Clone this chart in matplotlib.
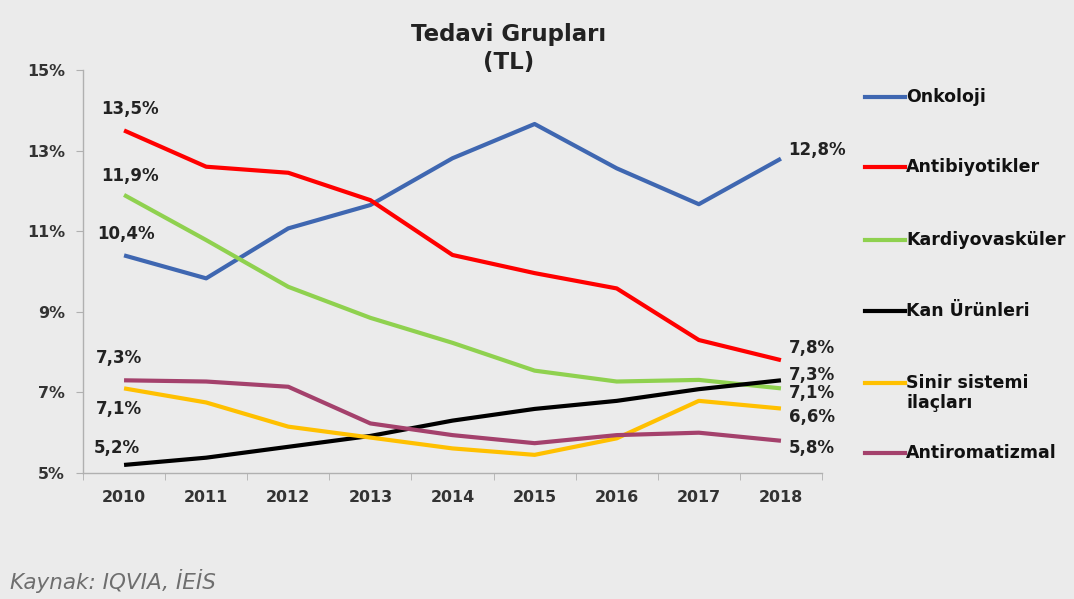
import matplotlib.pyplot as plt
from matplotlib.lines import Line2D

years = ["2010", "2011", "2012", "2013", "2014", "2015", "2016", "2017", "2018"]

onkoloji = [10.4, 9.83, 11.07, 11.65, 12.81, 13.66, 12.56, 11.67, 12.8]
antibiyotikler = [13.5, 12.6, 12.45, 11.77, 10.41, 9.96, 9.58, 8.3, 7.8]
kardiyovaskuler = [11.9, 10.78, 9.62, 8.85, 8.23, 7.54, 7.27, 7.31, 7.1]
kan_urunleri = [5.2, 5.38, 5.65, 5.92, 6.3, 6.59, 6.79, 7.08, 7.3]
sinir_sistemi = [7.1, 6.75, 6.15, 5.88, 5.61, 5.45, 5.86, 6.79, 6.6]
antiromatizmal = [7.3, 7.27, 7.14, 6.23, 5.94, 5.74, 5.94, 6.0, 5.8]

names = ["Onkoloji", "Antibiyotikler", "Kardiyovasküler", "Kan Ürünleri",
         "Sinir sistemi\nilaçları", "Antiromatizmal"]
series = [onkoloji, antibiyotikler, kardiyovaskuler, kan_urunleri,
          sinir_sistemi, antiromatizmal]
colors = ["#3f67b1", "#ff0000", "#8fd14f", "#000000", "#ffc000", "#a4416c"]

# label offsets in pixels, positive = down (first point, last point)
first_off = [(-27, -21), (-23, -21), (-23, -19), (-30, -17), (-28, 21), (-28, -22)]
last_off = [(7, -9), (8, -12), (8, 5), (8, -5), (8, 8), (8, 7)]
# legend rows (figure y in px from top)
legend_y = [97, 167, 240, 311, 383, 453]

bg = "#ebebeb"
plt.rcParams["font.family"] = ["DejaVu Sans"]

fig = plt.figure(figsize=(10.74, 5.99), dpi=100, facecolor=bg)
ax = fig.add_axes([83 / 1074, 1 - 473 / 599, (822 - 83) / 1074, (473 - 70) / 599])
ax.set_facecolor(bg)

x = list(range(len(years)))
for vals, c, f_off, l_off in zip(series, colors, first_off, last_off):
    ax.plot(x, vals, color=c, lw=3, solid_capstyle="butt", zorder=3)
    ax.annotate(f"{vals[0]:.1f}%".replace(".", ","), (x[0], vals[0]),
                xytext=(f_off[0], -f_off[1]), textcoords="offset pixels",
                ha="left", va="center",
                fontsize=12, fontweight="bold", color="#222222")
    ax.annotate(f"{vals[-1]:.1f}%".replace(".", ","), (x[-1], vals[-1]),
                xytext=(l_off[0], -l_off[1]), textcoords="offset pixels",
                ha="left", va="center",
                fontsize=12, fontweight="bold", color="#222222")

ax.set_xlim(-0.5, len(years) - 0.5)
ax.set_ylim(5, 15)
ax.set_yticks([5, 7, 9, 11, 13, 15])
ax.set_yticklabels(["5%", "7%", "9%", "11%", "13%", "15%"])
ax.set_xticks(x)
ax.set_xticklabels(years)
ax.set_xticks([i + 0.5 for i in range(-1, len(years))], minor=True)
ax.tick_params(axis="x", which="major", length=0, pad=12)
ax.tick_params(axis="x", which="minor", length=5, color="#b0b0b0", direction="out")
ax.tick_params(axis="y", length=5, color="#b0b0b0", pad=8)
for lab in ax.get_xticklabels() + ax.get_yticklabels():
    lab.set_fontweight("bold")
    lab.set_fontsize(11.4)
    lab.set_color("#333333")
for s in ["top", "right"]:
    ax.spines[s].set_visible(False)
for s in ["left", "bottom"]:
    ax.spines[s].set_color("#b0b0b0")
    ax.spines[s].set_linewidth(1)

fig.text(509 / 1074, 1 - 35 / 599, "Tedavi Grupları", ha="center", va="center",
         fontsize=16.5, fontweight="bold", color="#222222")
fig.text(509 / 1074, 1 - 62 / 599, "(TL)", ha="center", va="center",
         fontsize=16.5, fontweight="bold", color="#222222")

# legend drawn by hand so the two-line entry keeps its line on the first row
for name, c, ly in zip(names, colors, legend_y):
    yy = 1 - ly / 599
    ty = 1 - (ly + name.count("\n") * 10) / 599
    fig.add_artist(Line2D([865 / 1074, 905 / 1074], [yy, yy], color=c, lw=3))
    fig.text(906 / 1074, ty, name, ha="left", va="center",
             fontsize=12.5, fontweight="bold", color="#111111", linespacing=1.1)

fig.text(10 / 1074, 1 - 581 / 599, "Kaynak: IQVIA, İEİS", ha="left", va="center",
         fontsize=15.5, style="italic", color="#6e6e6e")

fig.savefig("out.png", dpi=100, facecolor=bg)
